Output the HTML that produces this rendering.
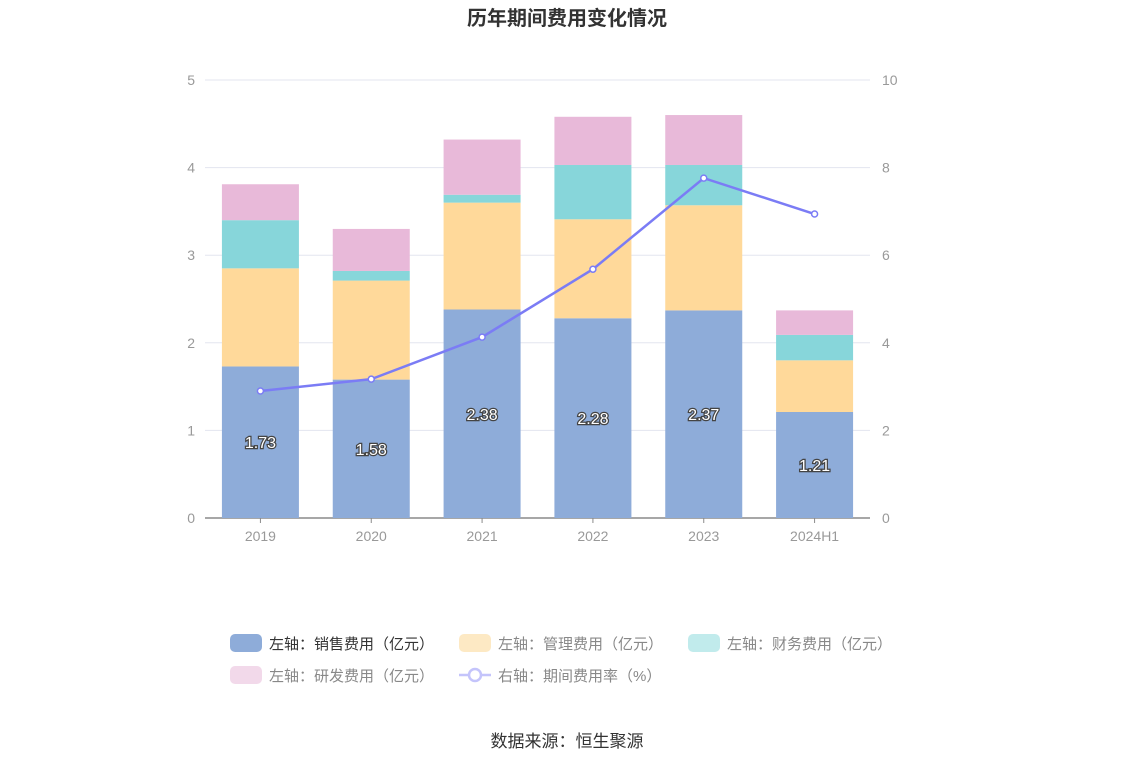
<!DOCTYPE html>
<html><head><meta charset="utf-8"><style>
body{margin:0;background:#fff;font-family:"Liberation Sans","Noto Sans CJK SC",sans-serif;}
</style></head><body>
<svg id="c" width="1134" height="766" xmlns="http://www.w3.org/2000/svg" style="font-family:'Liberation Sans','Noto Sans CJK SC',sans-serif">
<text x="567" y="25" text-anchor="middle" font-size="20" font-weight="bold" fill="#333">历年期间费用变化情况</text>
<g id="grid"></g><g id="bars"></g><g id="line"></g><g id="labels"></g>
<g id="legend">
<rect x="230" y="634" width="32" height="18" rx="5" fill="#8eacd9"/>
<text x="269" y="649" font-size="15" fill="#333">左轴：销售费用（亿元）</text>
<rect x="459" y="634" width="32" height="18" rx="5" fill="#fde9c4"/>
<text x="498" y="649" font-size="15" fill="#888">左轴：管理费用（亿元）</text>
<rect x="688" y="634" width="32" height="18" rx="5" fill="#c1ebec"/>
<text x="727" y="649" font-size="15" fill="#888">左轴：财务费用（亿元）</text>
<rect x="230" y="666" width="32" height="18" rx="5" fill="#f2d9ea"/>
<text x="269" y="681" font-size="15" fill="#888">左轴：研发费用（亿元）</text>
<line x1="459" y1="675" x2="491" y2="675" stroke="#c4c4fb" stroke-width="2.5"/>
<circle cx="475" cy="675" r="6" fill="#fff" stroke="#c4c4fb" stroke-width="2.5"/>
<text x="498" y="681" font-size="15" fill="#888">右轴：期间费用率（%）</text>
</g>
<text x="567" y="747" text-anchor="middle" font-size="17" fill="#333">数据来源：恒生聚源</text>
</svg>
<script>
const categories=["2019","2020","2021","2022","2023","2024H1"];
const sales=[1.73,1.58,2.38,2.28,2.37,1.21];
const mgmt=[1.12,1.13,1.22,1.13,1.20,0.59];
const fin=[0.55,0.11,0.09,0.62,0.46,0.29];
const rd=[0.41,0.48,0.63,0.55,0.57,0.28];
const rate=[2.90,3.17,4.13,5.68,7.76,6.94];
const leftTicks=[0,1,2,3,4,5];
const rightTicks=[0,2,4,6,8,10];
const NS="http://www.w3.org/2000/svg";
const x0=205,x1=870,yb=518,yt=80;
const yL=v=>yb-(v/5)*(yb-yt);
const yR=v=>yb-(v/10)*(yb-yt);
const bw=(x1-x0)/categories.length;
const xc=i=>x0+bw*(i+0.5);
function mk(t,a,p){const e=document.createElementNS(NS,t);for(const k in a)e.setAttribute(k,a[k]);p.appendChild(e);return e;}
const g=document.getElementById('grid');
leftTicks.forEach((v,i)=>{
 const y=yL(v);
 if(v>0){const l=mk('line',{x1:x0,x2:x1,y1:y,y2:y,stroke:'#e3e5ef'},g);
 
 }
 const t=mk('text',{x:x0-10,y:y+5,'text-anchor':'end','font-size':14,fill:'#999'},g);t.textContent=v;
 
 
 const r=mk('text',{x:x1+12,y:yR(rightTicks[i])+5,'font-size':14,fill:'#999'},g);r.textContent=rightTicks[i];
 
 
});
const ax=mk('line',{x1:x0,x2:x1,y1:yb,y2:yb,stroke:'#8a8a8a','stroke-width':1.5},g);


categories.forEach((c,i)=>{
 const tk=mk('line',{x1:xc(i),x2:xc(i),y1:yb,y2:yb+5,stroke:'#8a8a8a'},g);
 
 
 const t=mk('text',{x:xc(i),y:yb+23,'text-anchor':'middle','font-size':14,fill:'#999'},g);t.textContent=c;
 
 
});
const b=document.getElementById('bars');
const series=[[sales,'#8eacd9','sales'],[mgmt,'#ffd99a','mgmt'],[fin,'#87d6da','fin'],[rd,'#e8b9d9','rd']];
const W=77;
categories.forEach((c,i)=>{
 let acc=0;
 series.forEach(([arr,col,nm])=>{
  const y1=yL(acc),y2=yL(acc+arr[i]);acc+=arr[i];
  const r=mk('rect',{x:xc(i)-W/2,y:y2,width:W,height:y1-y2,fill:col},b);
  
  
 });
});
const lg=document.getElementById('line');
const pts=rate.map((v,i)=>xc(i)+','+yR(v)).join(' ');
const pl=mk('polyline',{points:pts,fill:'none',stroke:'#7b7cf5','stroke-width':2.5},lg);


rate.forEach((v,i)=>{
 const p=mk('circle',{cx:xc(i),cy:yR(v),r:3,fill:'#fff',stroke:'#7b7cf5','stroke-width':1.5},lg);
 
 
});
const lb=document.getElementById('labels');
sales.forEach((v,i)=>{
 const t=mk('text',{x:xc(i),y:(yL(0)+yL(v))/2+6,'text-anchor':'middle','font-size':16,fill:'#fff',stroke:'#444','stroke-width':2.5,'paint-order':'stroke'},lb);
 t.textContent=v.toFixed(2);
 
 
});
</script>
</body></html>
